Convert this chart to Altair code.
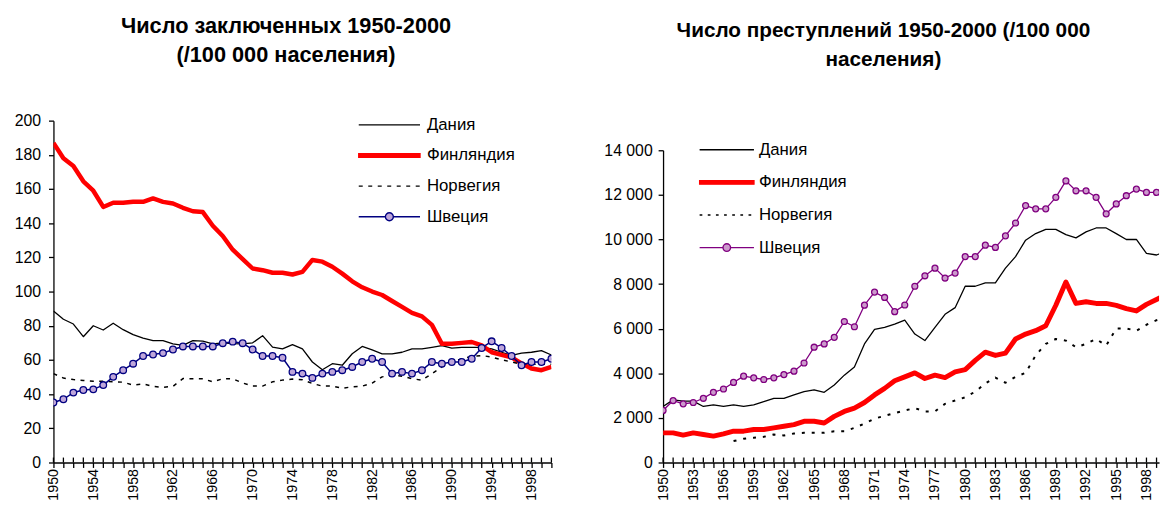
import altair as alt
import pandas as pd

years = list(range(1950, 2001))
countries = ["Дания", "Финляндия", "Норвегия", "Швеция"]

# Число заключенных (/100 000)
prison_denmark = [88.7, 83.8, 81, 73.6, 80, 77.5, 81.5, 77.7, 74.8, 72.8,
                  71.3, 71.3, 69.4, 68.5, 71.3, 71, 69.4, 70, 69.5, 69.4,
                  70, 74.2, 67.5, 66.5, 69, 66.5, 58.8, 54.3, 57.8, 56.9,
                  63.6, 67.9, 65.9, 63.6, 63.6, 64.5, 66.5, 66.5, 67.4, 68.4,
                  66.9, 67.4, 67.4, 67.4, 66.5, 64.5, 62.6, 64, 64.5, 65.5,
                  62.9]
prison_finland = [187, 178, 173.5, 164.5, 159, 149.5, 152, 152, 152.5, 152.5,
                  154.5, 152.5, 151.5, 149, 147, 146.5, 138.5, 132.5, 124.5, 119,
                  113.5, 112.5, 111, 111, 110, 111.5, 118.5, 117.5, 114.5, 110.5,
                  106, 102.5, 100, 98, 94.5, 91, 87.5, 85.5, 80.5, 69.5,
                  69.5, 70, 70.5, 68.5, 64.5, 63, 61.5, 58, 55, 54,
                  56]
prison_norway = [52, 49.4, 48.5, 48, 47.5, 47.5, 47.2, 47, 45.3, 46,
                 44.5, 44, 44.5, 49.1, 49, 49, 47.2, 49, 49, 46.5,
                 44.7, 44.7, 47.2, 48.2, 48.8, 48.4, 46.2, 44.7, 44.7, 43.4,
                 44.3, 44.7, 46.5, 50.1, 51, 50.5, 49, 48.2, 52, 55.9,
                 58.8, 60.7, 62, 62.6, 61.7, 60.1, 58.8, 57.5, 57.5, 57.5,
                 57.5]
prison_sweden = [35.1, 37, 40.9, 42.4, 42.8, 45.3, 50.1, 54, 57.8, 62.3,
                 63.2, 64, 66.1, 67.9, 67.9, 67.9, 67.9, 69.8, 70.7, 69.8,
                 66.1, 62.3, 62.3, 61.3, 53, 52, 49.5, 52, 53, 54,
                 55.9, 58.8, 60.7, 58.8, 52, 53, 52, 54, 58.8, 57.8,
                 58.8, 58.8, 60.7, 67, 70.9, 67, 62.3, 56.9, 58.8, 58.8,
                 60.7]

# Число преступлений (/100 000)
crime_denmark = [2512, 2807, 2750, 2750, 2512, 2585, 2512, 2585, 2512, 2585,
                 2734, 2880, 2880, 3030, 3176, 3252, 3146, 3473, 3916, 4284,
                 5317, 5970, 6057, 6203, 6380, 5760, 5467, 6057, 6646, 6943,
                 7903, 7903, 8050, 8050, 8714, 9232, 9968, 10265, 10456, 10456,
                 10221, 10074, 10339, 10516, 10516, 10265, 10000, 10000, 9380, 9304,
                 9481]
crime_finland = [1329, 1329, 1227, 1329, 1255, 1183, 1285, 1404, 1404, 1478,
                 1478, 1551, 1626, 1700, 1847, 1847, 1772, 2069, 2290, 2437,
                 2690, 3030, 3323, 3664, 3841, 4018, 3766, 3916, 3810, 4063,
                 4165, 4581, 4949, 4802, 4905, 5538, 5760, 5910, 6132, 7050,
                 8094, 7133, 7208, 7133, 7133, 7045, 6898, 6796, 7089, 7311,
                 7532]
crime_norway = [None, None, None, None, None, None, None, 961, 1063, 1107,
                1152, 1255, 1210, 1300, 1329, 1329, 1329, 1404, 1404, 1551,
                1745, 1970, 2090, 2215, 2335, 2437, 2290, 2290, 2631, 2778,
                2924, 3176, 3544, 3810, 3575, 3841, 4018, 4802, 5317, 5538,
                5465, 5170, 5317, 5538, 5245, 6012, 6012, 5910, 6176, 6380,
                6499]
crime_sweden = [2335, 2778, 2630, 2690, 2880, 3146, 3296, 3590, 3872, 3797,
                3722, 3797, 3943, 4094, 4461, 5170, 5317, 5613, 6322, 6087,
                7055, 7640, 7400, 6765, 7062, 7903, 8373, 8714, 8271, 8493,
                9232, 9232, 9747, 9645, 10163, 10739, 11519, 11373, 11373, 11891,
                12627, 12184, 12184, 11891, 11151, 11594, 11962, 12259, 12111, 12111,
                12184]

prison_ticks = list(range(0, 201, 20))
crime_ticks = list(range(0, 14001, 2000))

title_left = ["Число заключенных 1950-2000", "(/100 000 населения)"]
title_right = ["Число преступлений 1950-2000 (/100 000", "населения)"]

FONT = "Liberation Sans"
PANEL_H = 346


def long_df(series):
    rows = []
    for name, vals in zip(countries, series):
        for yr, v in zip(years, vals):
            if v is not None:
                rows.append({"year": yr, "country": name, "value": v, "zero": 0})
    return pd.DataFrame(rows)


def panel(df, title, title_size, title_offset, width, x_end, top_gap, ticks,
          label_every, y_expr, y_pad, line_styles, point_style, legend_opts,
          legend_shapes, legend_strokes, legend_fills):
    x_scale = alt.Scale(domain=[1950, x_end], nice=False, zero=False)
    x_axis = alt.Axis(values=[v for v in years if v <= x_end], title=None, labelAngle=-90,
                      labelExpr=f"(datum.value - 1950) % {label_every} == 0 ? '' + datum.value : ''",
                      labelOverlap=False, labelFlush=False, labelBound=False,
                      labelPadding=1, tickSize=5, labelFontSize=14.5)
    y_scale = alt.Scale(domain=[ticks[0], ticks[-1]], nice=False,
                        range=[PANEL_H, top_gap])
    y_axis = alt.Axis(values=ticks, title=None, labelExpr=y_expr,
                      labelPadding=y_pad, tickSize=5, labelOverlap=False,
                      labelFlush=False, labelFontSize=16)
    x = alt.X("year:Q", scale=x_scale, axis=x_axis)
    y = alt.Y("value:Q", scale=y_scale, axis=y_axis)
    base = alt.Chart(df)
    layers = []
    for name, (col, w, dash) in zip(countries, line_styles):
        kw = dict(color=col, strokeWidth=w, strokeJoin="round", clip=True)
        if dash:
            kw["strokeDash"] = dash
        layers.append(base.transform_filter(alt.datum.country == name)
                      .mark_line(**kw).encode(x=x, y=y))
    fill, stroke, size, sw = point_style
    layers.append(base.transform_filter(alt.datum.country == countries[3])
                  .mark_point(filled=True, fill=fill, stroke=stroke, size=size,
                              strokeWidth=sw, opacity=1, shape="circle", clip=True)
                  .encode(x=x, y=y))
    # crossing tick marks above the x axis
    layers.append(base.transform_filter(alt.datum.country == countries[0])
                  .transform_filter(alt.datum.year <= x_end)
                  .mark_rule(color="black", strokeWidth=1.3, yOffset=-5, y2Offset=0)
                  .encode(x=x, y=alt.Y("zero:Q", scale=y_scale, axis=y_axis),
                          y2=alt.Y2("zero:Q")))
    leg = alt.Legend(title=None, orient="none", padding=0, rowPadding=2,
                     labelFont=FONT, labelColor="black", symbolStrokeWidth=1.4,
                     symbolOpacity=1, **legend_opts)
    layers.append(alt.Chart(pd.DataFrame({"country": countries}))
                  .transform_filter("false")
                  .mark_point(filled=True, opacity=1)
                  .encode(shape=alt.Shape("country:N", scale=alt.Scale(domain=countries, range=legend_shapes), legend=leg),
                          stroke=alt.Stroke("country:N", scale=alt.Scale(domain=countries, range=legend_strokes), legend=leg),
                          fill=alt.Fill("country:N", scale=alt.Scale(domain=countries, range=legend_fills), legend=leg)))
    return alt.layer(*layers).properties(
        width=width, height=PANEL_H,
        title=alt.TitleParams(text=title, font=FONT, fontSize=title_size, fontWeight="bold",
                              color="black", anchor="middle", frame="bounds",
                              lineHeight=30, offset=title_offset))


def dashes(n, start, dash, gap):
    parts = []
    x0 = start
    for _ in range(n):
        x1 = min(x0 + dash, 1.0)
        parts.append(f"M{x0:.3f},0H{x1:.3f}")
        x0 = x0 + dash + gap
    return "".join(parts)


def circle_line(r):
    return (f"M-1,0H{-r}A{r},{r} 0 1,1 {r},0A{r},{r} 0 1,1 {-r},0M{r},0H1")


left_shapes = ["M-1,0H1", "M-1,-0.06H1V0.06H-1Z", dashes(7, -1.0, 0.13, 0.18), circle_line(0.13)]
right_shapes = ["M-1,0H1", "M-1,-0.065H1V0.065H-1Z", dashes(7, -1.0, 0.1, 0.2), circle_line(0.14)]

left = panel(
    long_df([prison_denmark, prison_finland, prison_norway, prison_sweden]),
    title_left, 22, 44, 504, 2000, 0, prison_ticks, 4, "'' + datum.value", 8,
    [("black", 1.3, None), ("#FF0000", 4.5, None), ("black", 1.5, [4, 5.5]), ("#000080", 1.5, None)],
    ("#BFA6DA", "#000080", 45, 1.3),
    dict(legendX=308, legendY=-10.1, symbolSize=3844, clipHeight=28.8,
         labelFontSize=17, labelOffset=6),
    left_shapes, ["black", "#FF0000", "black", "#000080"],
    ["transparent", "#FF0000", "transparent", "#BFA6DA"])

right = panel(
    long_df([crime_denmark, crime_finland, crime_norway, crime_sweden]),
    title_right, 21, 51, 502, 1999.25, 30, crime_ticks, 3,
    "replace(format(datum.value, ','), ',', ' ')", 6,
    [("black", 1.3, None), ("#FF0000", 5, None), ("black", 2, [3, 7]), ("#800080", 1.3, None)],
    ("#CC99CC", "#800080", 36, 1.3),
    dict(legendX=36, legendY=14, symbolSize=3025, clipHeight=31,
         labelFontSize=17, labelOffset=4),
    right_shapes, ["black", "#FF0000", "black", "#800080"],
    ["transparent", "#FF0000", "transparent", "#CC99CC"])

chart = (alt.hconcat(left, right, spacing=46)
         .resolve_scale(shape="independent", stroke="independent", fill="independent")
         .properties(padding={"left": 6, "top": 3, "right": 0, "bottom": 0})
         .configure_view(stroke=None)
         .configure_axis(domainColor="black", domainWidth=1.3, tickColor="black",
                         tickWidth=1.3, labelColor="black", labelFont=FONT,
                         grid=False))

chart.save("out.html", embed_options={"renderer": "svg", "actions": False})
